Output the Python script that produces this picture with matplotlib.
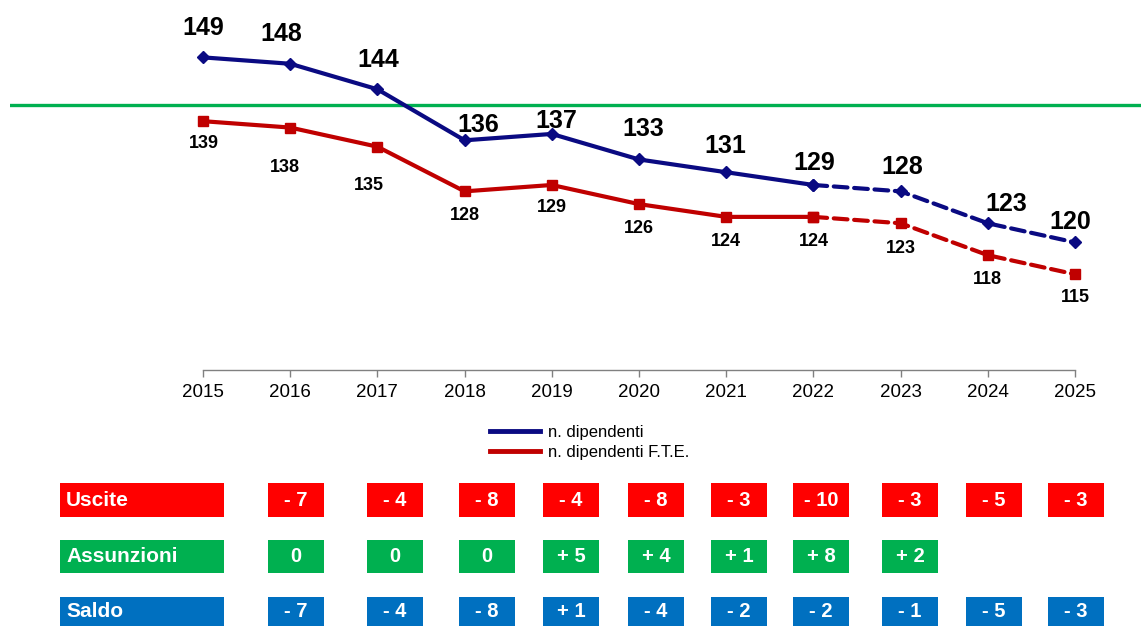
import matplotlib.pyplot as plt
from matplotlib.lines import Line2D
from matplotlib.patches import Rectangle

plt.rcParams["font.family"] = ["Liberation Sans", "DejaVu Sans"]

# ---- data ----
years = [2015, 2016, 2017, 2018, 2019, 2020, 2021, 2022, 2023, 2024, 2025]
dipendenti = [149, 148, 144, 136, 137, 133, 131, 129, 128, 123, 120]
dipendenti_fte = [139, 138, 135, 128, 129, 126, 124, 124, 123, 118, 115]
last_actual = 2022          # from here on the lines are dashed (forecast)
reference_level = 141.5     # green horizontal line

row_names = ["Uscite", "Assunzioni", "Saldo"]
uscite = ["- 7", "- 4", "- 8", "- 4", "- 8", "- 3", "- 10", "- 3", "- 5", "- 3"]
assunzioni = ["0", "0", "0", "+ 5", "+ 4", "+ 1", "+ 8", "+ 2", "", ""]
saldo = ["- 7", "- 4", "- 8", "+ 1", "- 4", "- 2", "- 2", "- 1", "- 5", "- 3"]

# ---- layout / style ----
W, H = 1141, 626
BLUE = "#0A0A82"
RED = "#C00000"
ROW_COLORS = ["#FF0000", "#00B050", "#0070C0"]
blue_off = [(0, 29), (-9, 30), (1, 29), (14, 15), (5, 13), (4, 30),
            (-1, 26), (1, 22), (2, 24), (18, 19), (-5, 20)]
red_off = [(1, 22), (-5, 40), (-9, 39), (0, 24), (0, 23), (0, 24),
           (0, 25), (0, 25), (0, 25), (0, 24), (0, 23)]
box_centers = [296, 395, 487, 571, 656, 739, 821, 910, 994, 1076]
row_y = [(483, 517), (540, 573), (597, 630)]

fig = plt.figure(figsize=(W / 100, H / 100), dpi=100)

# main line chart: 2015 -> x=203 px, 2025 -> x=1075 px, 100 -> y=370 px
px_year = (1075 - 203) / 10
ax = fig.add_axes([10 / W, (H - 370) / H, (W - 10) / W, 370 / H])
ax.set_xlim(2015 - 193 / px_year, 2025 + 66 / px_year)
ax.set_ylim(100, 100 + 370 / 6.38)
for s in ["top", "right", "left", "bottom"]:
    ax.spines[s].set_visible(False)
ax.set_yticks([])
ax.set_xticks(years)
ax.set_xticklabels([str(y) for y in years], fontsize=13.5)
ax.tick_params(axis="x", direction="out", length=5, width=1, color="#808080", pad=5)
ax.plot([years[0], years[-1]], [100, 100], color="#808080", lw=1, clip_on=False)
ax.axhline(reference_level, color="#00B050", lw=2.4, zorder=1)

k = years.index(last_actual)
dash = (0, (3.3, 1.6))
for vals, col, mk, ms in [(dipendenti, BLUE, "D", 6), (dipendenti_fte, RED, "s", 7)]:
    ax.plot(years[:k + 1], vals[:k + 1], color=col, lw=3, marker=mk, ms=ms,
            solid_capstyle="butt", zorder=3)
    ax.plot(years[k:], vals[k:], color=col, lw=3, ls=dash, marker=mk, ms=ms,
            dash_capstyle="round", zorder=3)

for x, v, (dx, dy) in zip(years, dipendenti, blue_off):
    ax.annotate(str(v), (x, v), xytext=(dx, dy), textcoords="offset pixels",
                ha="center", va="center", fontsize=18, fontweight="bold")
for x, v, (dx, dy) in zip(years, dipendenti_fte, red_off):
    ax.annotate(str(v), (x, v), xytext=(dx, -dy), textcoords="offset pixels",
                ha="center", va="center", fontsize=13, fontweight="bold")

handles = [Line2D([], [], color=BLUE, lw=3.5), Line2D([], [], color=RED, lw=3.5)]
ax.legend(handles, ["n. dipendenti", "n. dipendenti F.T.E."], loc="center left",
          bbox_to_anchor=(490 / W, 1 - 442 / H), bbox_transform=fig.transFigure,
          frameon=False, fontsize=12, handlelength=3.0, handletextpad=0.45,
          labelspacing=0.3, borderpad=0, borderaxespad=0)

# table of movements, in pixel coordinates
tab = fig.add_axes([0, 0, 1, 1])
tab.set_xlim(0, W)
tab.set_ylim(H, 0)
tab.axis("off")
for name, vals, col, (y0, y1) in zip(row_names, [uscite, assunzioni, saldo],
                                     ROW_COLORS, row_y):
    yc = (y0 + min(y1, H)) / 2
    tab.add_patch(Rectangle((60, y0), 164, y1 - y0, color=col, lw=0))
    tab.text(66, yc, name, color="white", fontsize=15, fontweight="bold",
             ha="left", va="center")
    for cx, v in zip(box_centers, vals):
        if not v:
            continue
        tab.add_patch(Rectangle((cx - 28, y0), 56, y1 - y0, color=col, lw=0))
        tab.text(cx, yc, v, color="white", fontsize=14.5, fontweight="bold",
                 ha="center", va="center")

fig.savefig("out.png", dpi=100)
